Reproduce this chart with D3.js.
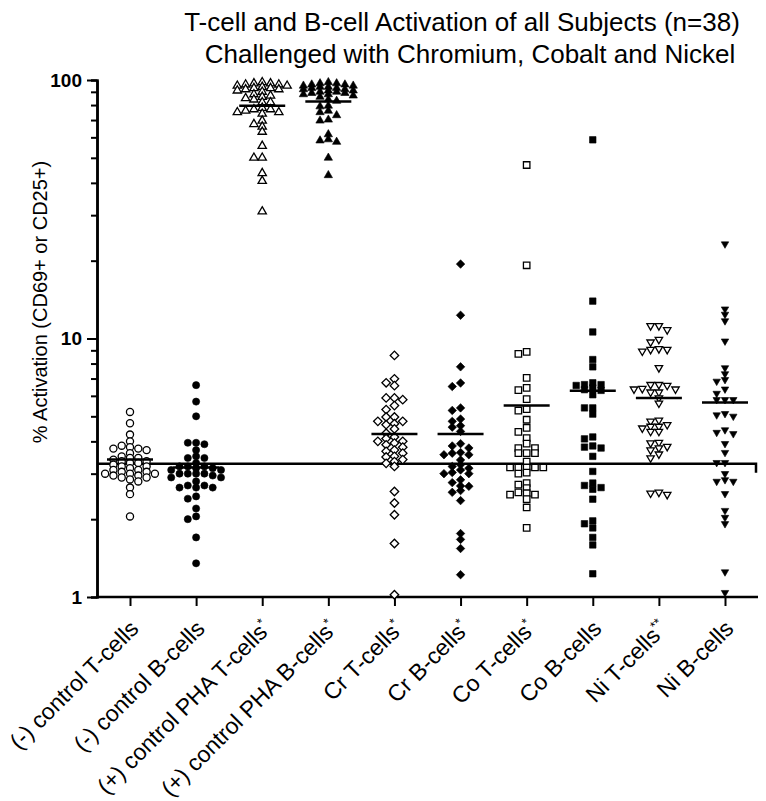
<!DOCTYPE html>
<html><head><meta charset="utf-8">
<script src="https://cdn.jsdelivr.net/npm/d3@7"></script>
<style>
html,body{margin:0;padding:0;background:#fff;}
svg{display:block;font-family:Arial,"Liberation Sans",sans-serif;}
</style></head>
<body><svg id="chart" width="766" height="801"></svg>
<script>
const categories = ["(-) control T-cells","(-) control B-cells","(+) control PHA T-cells","(+) control PHA B-cells","Cr T-cells","Cr B-cells","Co T-cells","Co B-cells","Ni T-cells","Ni B-cells"];
const labelStars = ["","","*","*","*","*","*","","**",""];
const markerShapes = ["circle","circle","triangle","triangle","diamond","diamond","square","square","down","down"];
const markerFilled = [false,true,false,true,false,true,false,true,false,true];

const negTcells = [5.2,4.7,4.25,4.0,3.8,3.75,3.75,3.7,3.85,3.6,3.5,3.45,3.45,3.4,3.35,3.35,3.3,3.3,3.25,3.2,3.2,3.15,3.1,3.1,3.05,3.05,3.0,3.0,3.0,2.95,2.95,2.9,2.9,2.85,2.8,2.65,2.5,2.05];
const negBcells = [6.6,5.7,5.0,3.95,3.9,3.95,3.7,3.45,3.5,3.45,3.3,3.2,3.2,3.2,3.15,3.15,3.1,3.1,3.0,3.0,3.0,3.0,2.95,2.9,2.9,2.8,2.7,2.7,2.65,2.65,2.65,2.4,2.45,2.2,2.05,2.0,1.7,1.35];
const phaTcells = [98,97,97,96,96,95,95,94,93,93,92,92,91,90,88,87,86,85,84,82,82,78,77,77,76,75,75,74,69.6,67.5,66,63,55.6,50,50,43.6,40.7,31];
const phaBcells = [98,97,97,96,96,95,95,94,94,93,93,92,92,91,91,90,90,89,89,88,88,87,86,84,83,79.5,79,76,75,73,70.2,69.6,61.6,58.9,58.3,57.6,50,42.8];
const crTcells = [8.6,6.98,6.57,6.74,5.89,5.8,5.89,5.31,5.5,4.97,4.78,4.68,4.78,4.97,4.64,4.47,4.3,4.16,4.1,4.0,3.88,3.8,3.94,4.0,3.7,3.6,3.5,3.48,3.66,3.4,3.29,3.2,3.34,2.56,2.31,2.08,1.61,1.02];
const crBcells = [19.4,12.3,7.77,6.52,6.73,5.39,5.27,4.78,4.88,4.6,4.54,4.37,3.92,3.84,3.62,3.55,3.6,3.77,3.55,3.39,3.25,3.2,3.15,3.1,3.0,3.03,3.0,2.77,2.84,2.68,2.69,2.54,2.58,2.36,1.76,1.67,1.54,1.22];
const coTcells = [46.9,19.2,8.72,8.88,7.04,6.31,6.44,5.83,5.26,5.33,4.85,4.51,4.35,4.12,3.92,3.77,3.77,3.6,3.6,3.6,3.34,3.17,3.17,3.17,3.17,3.17,3.0,3.03,2.76,2.72,2.64,2.52,2.49,2.49,2.54,2.39,2.22,1.85];
const coBcells = [58.7,13.95,10.6,8.29,7.77,6.74,6.58,6.63,6.63,6.44,6.06,6.34,6.3,5.39,5.1,5.39,4.09,4.16,3.8,3.77,3.84,3.5,3.06,2.7,2.61,2.65,2.76,2.39,1.97,1.85,1.92,1.70,1.59,1.23];
const niTcells = [11.2,10.8,11.2,9.68,9.91,9.12,8.93,9.06,9.06,7.7,6.58,6.63,6.63,6.37,6.2,6.2,6.37,6.4,5.89,5.62,4.57,4.37,4.37,4.57,4.64,4.78,4.83,4.5,3.94,3.77,3.82,3.96,3.7,3.57,3.45,2.54,2.49,2.52];
const niBcells = [23.2,12.4,13.0,11.7,9.77,7.7,7.3,6.93,6.83,6.37,6.13,5.8,5.8,5.8,5.06,5.0,5.12,4.43,4.28,4.33,3.92,3.62,3.31,3.31,3.0,2.8,2.8,2.84,2.51,2.16,2.03,1.92,1.25,1.04];
const seriesValues = [negTcells,negBcells,phaTcells,phaBcells,crTcells,crBcells,coTcells,coBcells,niTcells,niBcells];
const medians = [3.4,3.17,79.5,82.6,4.27,4.27,5.51,6.28,5.89,5.66];
const referenceLevel = 3.28;
const majorTicks = [1,10,100];
const minorTicks = [2,3,4,5,6,7,8,9,20,30,40,50,60,70,80,90];
const titleLines = ["T-cell and B-cell Activation of all Subjects (n=38)","Challenged with Chromium, Cobalt and Nickel"];
const yTitle = "% Activation (CD69+ or CD25+)";

const svg = d3.select("#chart");
const axisX0 = 97, axisXEnd = 758;
const y = d3.scaleLog().domain([1,100]).range([597,80]);
const x = d3.scalePoint().domain(categories).range([130,725]);

svg.append("text").attr("x",462).attr("y",31).attr("text-anchor","middle").attr("font-size",26).text(titleLines[0]);
svg.append("text").attr("x",470).attr("y",63).attr("text-anchor","middle").attr("font-size",26).text(titleLines[1]);

svg.append("text").attr("transform","translate(47,302) rotate(-90)").attr("text-anchor","middle").attr("font-size",20).text(yTitle);

const gy = svg.append("g").attr("transform",`translate(${axisX0},0)`);
gy.call(d3.axisLeft(y).tickValues(majorTicks).tickSize(10).tickSizeOuter(0).tickFormat(d3.format("d")));
gy.append("g").call(d3.axisLeft(y).tickValues(minorTicks).tickSize(6).tickFormat(""));
gy.selectAll("path.domain").attr("stroke-width",2.5);
gy.selectAll(".tick line").attr("stroke-width",2);
gy.selectAll(".tick text").attr("font-size",19).attr("font-weight","bold").attr("fill","#000").attr("dx",-2);
gy.select("g").selectAll("path.domain").remove();

svg.append("line").attr("x1",axisX0-1).attr("x2",axisXEnd).attr("y1",y(1)).attr("y2",y(1)).attr("stroke","#000").attr("stroke-width",2.5);
const gx = svg.append("g").attr("transform",`translate(0,${y(1)})`);
gx.call(d3.axisBottom(x).tickSize(9).tickSizeOuter(0).tickFormat(""));
gx.select("path.domain").remove();
gx.selectAll(".tick line").attr("stroke-width",2);

categories.forEach((c,i)=>{
  const t = svg.append("text").attr("transform",`translate(${x(c)+10},630) rotate(-45)`).attr("text-anchor","end").attr("font-size",23);
  t.append("tspan").text(c);
  if (labelStars[i]) t.append("tspan").attr("font-size",13).attr("dy",-9).text(labelStars[i]);
});

const refY = y(referenceLevel);
svg.append("path").attr("d",`M${axisX0},${refY}H756V${refY+9}`).attr("fill","none").attr("stroke","#000").attr("stroke-width",2.5);

function symbolFor(shape){
  if (shape==="circle") return {type:d3.symbolCircle,size:40,rot:0};
  if (shape==="triangle") return {type:d3.symbolTriangle,size:30,rot:0};
  if (shape==="diamond") return {type:d3.symbolSquare,size:36,rot:45};
  if (shape==="square") return {type:d3.symbolSquare,size:42,rot:0};
  return {type:d3.symbolTriangle,size:24,rot:180};
}
const step = 8.3, minGap = 4.6;
const slotOrder = [0,-1,1,-2,2,-3,3];
seriesValues.forEach((vals,i)=>{
  const cx = x(categories[i]);
  const sorted = vals.slice().sort((a,b)=>b-a);
  const placed = [];
  sorted.forEach(v=>{
    const py = y(v);
    let slot = null;
    for (const k of slotOrder){
      if (!placed.some(p=>p.k===k && Math.abs(p.y-py)<minGap)){ slot=k; break; }
    }
    if (slot===null){
      let best = -1;
      for (const k of slotOrder){
        const near = d3.min(placed.filter(p=>p.k===k), p=>Math.abs(p.y-py));
        if (near>best){ best=near; slot=k; }
      }
    }
    placed.push({k:slot,y:py,v});
  });
  const s = symbolFor(markerShapes[i]);
  const sym = d3.symbol().type(s.type).size(s.size);
  svg.append("g").selectAll("path").data(placed).join("path")
    .attr("d",sym)
    .attr("transform",d=>`translate(${cx+d.k*step},${d.y}) rotate(${s.rot})`)
    .attr("fill",markerFilled[i]?"#000":"#fff")
    .attr("stroke","#000").attr("stroke-width",markerFilled[i]?0.6:1.3);
  svg.append("line").attr("x1",cx-23).attr("x2",cx+23).attr("y1",y(medians[i])).attr("y2",y(medians[i]))
    .attr("stroke","#000").attr("stroke-width",2.5);
});
</script></body></html>
